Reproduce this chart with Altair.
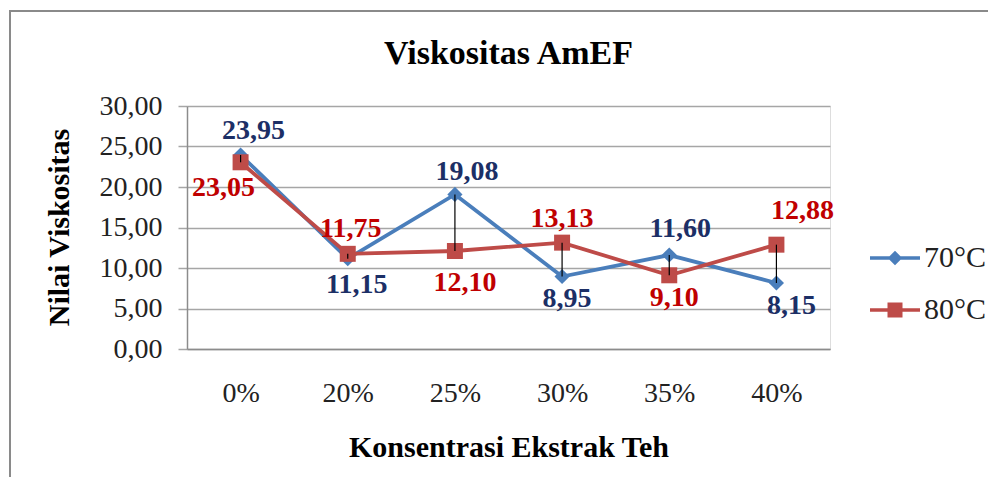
import altair as alt
import pandas as pd

# ---- data ----
categories = ["0%", "20%", "25%", "30%", "35%", "40%"]
series_names = ["70°C", "80°C"]
values_70 = [23.95, 11.15, 19.08, 8.95, 11.60, 8.15]
values_80 = [23.05, 11.75, 12.10, 13.13, 9.10, 12.88]

# ---- style ----
FONT = "Liberation Serif"
BLUE = "#4A7EBB"
RED = "#BE4B48"
BLUE_TXT = "#1C2F66"
RED_TXT = "#C00000"
GRID = "#A6A6A6"
AXIS = "#8C8C8C"
# label pixel offsets (dx, dy) for each data label
off_70 = [(13, -24), (9, 26), (12, -22), (5, 22), (11, -26), (15, 23)]
off_80 = [(-17, 26), (3, -25), (10, 32), (0, -24), (5, 23), (26, -34)]

long_df = pd.DataFrame(
    {
        "cat": categories * 2,
        "series": [series_names[0]] * len(categories) + [series_names[1]] * len(categories),
        "val": values_70 + values_80,
    }
)
wide_df = pd.DataFrame({"cat": categories, "v70": values_70, "v80": values_80})

x_enc = alt.X(
    "cat:N",
    sort=categories,
    scale=alt.Scale(type="point", padding=0.5),
    axis=alt.Axis(
        title="Konsentrasi Ekstrak Teh",
        titleFont=FONT,
        titleFontSize=30,
        titleFontWeight="bold",
        titleColor="black",
        titleY=98,
        titleBaseline="middle",
        labelFont=FONT,
        labelFontSize=28,
        labelColor="#222222",
        labelAngle=0,
        labelBaseline="middle",
        labelPadding=44,
        ticks=False,
        tickSize=0,
        domain=True,
        domainColor=AXIS,
        domainWidth=1.5,
        grid=False,
    ),
)
y_enc = alt.Y(
    "val:Q",
    scale=alt.Scale(domain=[0, 30], nice=False, zero=True),
    axis=alt.Axis(
        title="Nilai Viskositas",
        titleFont=FONT,
        titleFontSize=30,
        titleFontWeight="bold",
        titleColor="black",
        titleX=-128,
        titleY=121,
        titleAlign="center",
        titleBaseline="middle",
        values=[0, 5, 10, 15, 20, 25, 30],
        labelExpr="replace(format(datum.value, '.2f'), '.', ',')",
        labelFont=FONT,
        labelFontSize=28,
        labelColor="#222222",
        labelPadding=16,
        tickSize=9,
        tickColor=GRID,
        tickWidth=1.5,
        domain=True,
        domainColor=AXIS,
        domainWidth=1.5,
        grid=True,
        gridColor=GRID,
        gridWidth=1.5,
    ),
)

base = alt.Chart(long_df)
xs = alt.X("cat:N", sort=categories)
ys = alt.Y("val:Q")

line70 = (
    base.transform_filter(alt.datum.series == series_names[0])
    .mark_line(strokeWidth=3.8, color=BLUE)
    .encode(x=x_enc, y=y_enc)
)
line80 = (
    base.transform_filter(alt.datum.series == series_names[1])
    .mark_line(strokeWidth=3.8, color=RED)
    .encode(x=xs, y=ys)
)
pts70 = (
    base.transform_filter(alt.datum.series == series_names[0])
    .mark_point(shape="diamond", filled=True, size=230, color=BLUE, opacity=1)
    .encode(x=xs, y=ys)
)
pts80 = (
    base.transform_filter(alt.datum.series == series_names[1])
    .mark_square(size=256, color=RED, opacity=1)
    .encode(x=xs, y=ys)
)

hilo = (
    alt.Chart(wide_df)
    .mark_rule(color="black", strokeWidth=1.2)
    .encode(x=xs, y=alt.Y("v70:Q"), y2="v80:Q")
)

labels = []
for name, offs, colr in [(series_names[0], off_70, BLUE_TXT), (series_names[1], off_80, RED_TXT)]:
    for cat, (dx, dy) in zip(categories, offs):
        labels.append(
            base.transform_filter((alt.datum.series == name) & (alt.datum.cat == cat))
            .transform_calculate(lbl="replace(format(datum.val, '.2f'), '.', ',')")
            .mark_text(
                font=FONT,
                fontSize=28,
                fontWeight="bold",
                color=colr,
                dx=dx,
                dy=dy,
                align="center",
                baseline="middle",
            )
            .encode(x=xs, y=ys, text="lbl:N")
        )

# legend: line + marker symbols (the marks of this layer are invisible)
diamond_line = "M-1,-0.07L1,-0.07L1,0.07L-1,0.07ZM0,-0.29L0.29,0L0,0.29L-0.29,0Z"
square_line = "M-1,-0.07L1,-0.07L1,0.07L-1,0.07ZM-0.3,-0.3L0.3,-0.3L0.3,0.3L-0.3,0.3Z"
leg = alt.Legend(
    title=None,
    orient="none",
    legendX=683,
    legendY=127,
    padding=0,
    labelFont=FONT,
    labelFontSize=30,
    labelColor="#222222",
    labelOffset=4,
    symbolSize=2500,
    symbolStrokeWidth=0,
    symbolOpacity=1,
    rowPadding=12,
)
legend_layer = base.mark_point(filled=True, opacity=0).encode(
    x=xs,
    y=ys,
    fill=alt.Fill("series:N", scale=alt.Scale(domain=series_names, range=[BLUE, RED]), legend=leg),
    shape=alt.Shape(
        "series:N",
        scale=alt.Scale(domain=series_names, range=[diamond_line, square_line]),
        legend=leg,
    ),
)

# chart frame (outer border)
frame_df = pd.DataFrame({"k": [0]})
frame_left = alt.Chart(frame_df).mark_rule(color="#8A8A8A", strokeWidth=2).encode(
    x=alt.value(-177), y=alt.value(-95), y2=alt.value(400)
)
frame_top = alt.Chart(frame_df).mark_rule(color="#8A8A8A", strokeWidth=2).encode(
    y=alt.value(-95), x=alt.value(-178), x2=alt.value(820)
)

chart = (
    alt.layer(line70, line80, pts70, pts80, hilo, *labels, legend_layer, frame_left, frame_top)
    .properties(
        width=643,
        height=243,
        autosize=alt.AutoSizeParams(type="none"),
        padding={"left": 179, "top": 98, "right": 158, "bottom": 128},
        title=alt.TitleParams(
            "Viskositas AmEF",
            font=FONT,
            fontSize=34,
            fontWeight="bold",
            color="black",
            anchor="middle",
            frame="group",
            offset=-61,
        ),
    )
    .configure_view(stroke=None)
    .configure(background="white")
)

chart.save("out.html", embed_options={"renderer": "svg", "actions": False})
